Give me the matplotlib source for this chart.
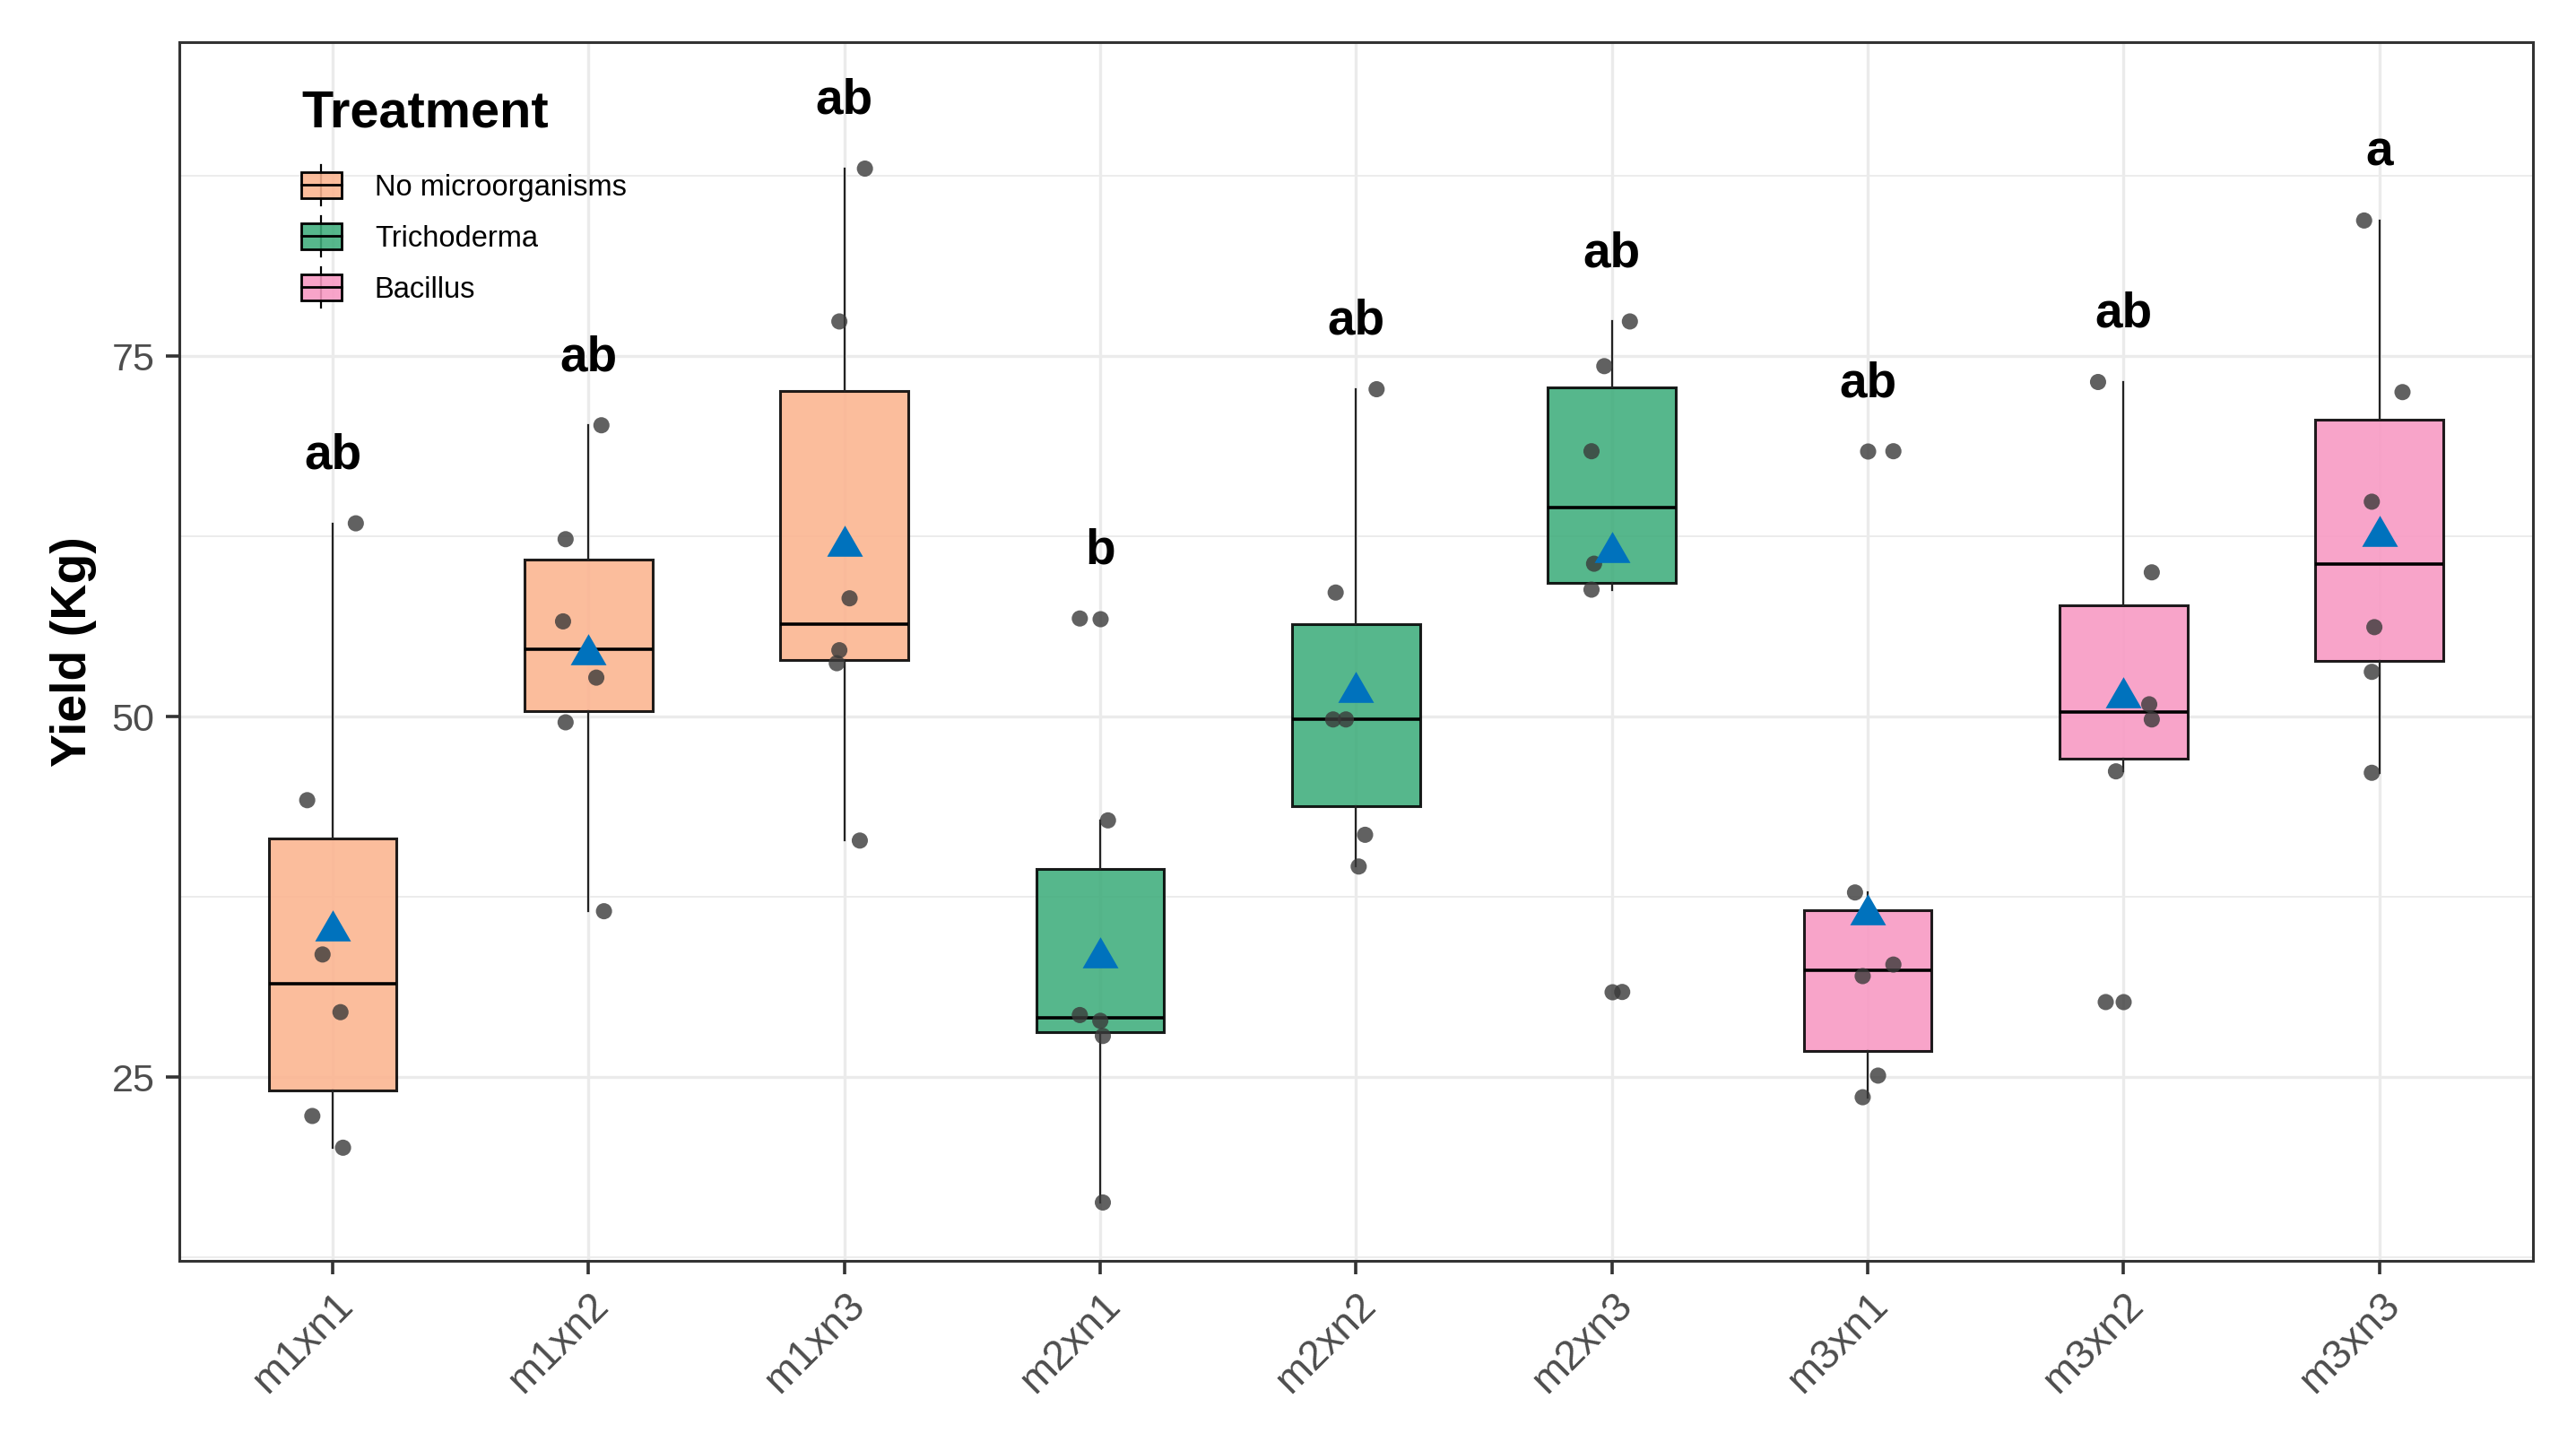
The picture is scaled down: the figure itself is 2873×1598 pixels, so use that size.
import numpy as np
import matplotlib.pyplot as plt
from matplotlib.patches import Rectangle
from matplotlib.lines import Line2D
from matplotlib.path import Path
from matplotlib.transforms import ScaledTranslation

# ---------------------------------------------------
# Data
# ---------------------------------------------------

groups = ["m1xn1", "m1xn2", "m1xn3", "m2xn1", "m2xn2", "m2xn3",
          "m3xn1", "m3xn2", "m3xn3"]
treatment = ["No microorganisms"] * 3 + ["Trichoderma"] * 3 + ["Bacillus"] * 3

m1xn1 = [63.4, 44.2, 33.5, 29.5, 22.3, 20.1]
m1xn2 = [70.2, 62.3, 56.6, 52.7, 49.6, 36.5]
m1xn3 = [88.0, 77.4, 58.2, 54.6, 53.7, 41.4]
m2xn1 = [56.8, 42.8, 29.3, 28.9, 27.85, 16.3]
m2xn2 = [72.7, 58.6, 49.8, 49.8, 41.8, 39.6]
m2xn3 = [77.4, 74.3, 68.4, 60.6, 58.8, 30.9]
m3xn1 = [68.4, 37.8, 32.8, 32.0, 25.1, 23.6]
m3xn2 = [73.2, 60.0, 50.85, 49.8, 46.2, 30.2]
m3xn3 = [84.4, 72.5, 64.9, 56.2, 53.1, 46.1]

yields = [m1xn1, m1xn2, m1xn3, m2xn1, m2xn2, m2xn3, m3xn1, m3xn2, m3xn3]

# horizontal jitter of the points, as seen in the picture
jitter = [
    [0.09, -0.10, -0.04, 0.03, -0.08, 0.04],
    [0.05, -0.09, -0.10, 0.03, -0.09, 0.06],
    [0.08, -0.02, 0.02, -0.02, -0.03, 0.06],
    [-0.08, 0.03, -0.08, 0.00, 0.01, 0.01],
    [0.08, -0.08, -0.09, -0.04, 0.035, 0.01],
    [0.07, -0.03, -0.08, -0.07, -0.08, 0.04],
    [0.10, -0.05, 0.10, -0.02, 0.04, -0.02],
    [-0.10, 0.11, 0.10, 0.11, -0.03, -0.07],
    [-0.06, 0.09, -0.03, -0.02, -0.03, -0.03],
]

letters = ["ab", "ab", "ab", "b", "ab", "ab", "ab", "ab", "a"]

legend_order = ["No microorganisms", "Trichoderma", "Bacillus"]
fill_colors = {"No microorganisms": "#FBB48F",
               "Trichoderma": "#3FAD7C",
               "Bacillus": "#F898C2"}

# ---------------------------------------------------
# Style
# ---------------------------------------------------

plt.rcParams["font.family"] = ["Liberation Sans", "DejaVu Sans"]

BOX_ALPHA = 0.88
POINT_COLOR = "#3A3A3A"
MEAN_COLOR = "#0072BD"
GRID_COLOR = "#EBEBEB"

# equilateral triangle centred on its bounding box
tri = Path([(-0.5, -0.433), (0.5, -0.433), (0.0, 0.433), (-0.5, -0.433)],
           [Path.MOVETO, Path.LINETO, Path.LINETO, Path.CLOSEPOLY])

fig = plt.figure(figsize=(28.73, 15.98), dpi=100)
ax = fig.add_axes([0.0696, 0.1201, 0.9137, 0.8505])

pos = np.arange(1, len(groups) + 1)

bp = ax.boxplot(
    yields,
    positions=pos,
    widths=0.5,
    patch_artist=True,
    showcaps=False,
    whis=1.5,
    boxprops=dict(edgecolor="black", linewidth=2.2),
    medianprops=dict(color="black", linewidth=2.6),
    whiskerprops=dict(color="#222222", linewidth=1.6),
    flierprops=dict(marker="o", markerfacecolor=POINT_COLOR,
                    markeredgecolor="none", markersize=13, alpha=0.8),
    zorder=2,
)
for patch, trt in zip(bp["boxes"], treatment):
    patch.set_facecolor(fill_colors[trt])
    patch.set_alpha(BOX_ALPHA)
    patch.set_edgecolor("black")

# jittered raw points
for p, vals, jit in zip(pos, yields, jitter):
    ax.scatter(p + np.array(jit), vals, s=169, color=POINT_COLOR,
               alpha=0.8, edgecolors="none", zorder=3)

# group means
means = [np.mean(v) for v in yields]
ax.plot(pos, means, linestyle="none", marker=tri, markersize=28.8,
        color=MEAN_COLOR, markeredgewidth=0, zorder=4)

# significance letters
for p, vals, lab in zip(pos, yields, letters):
    ax.text(p, max(vals) + 3.8, lab, ha="center", va="baseline",
            fontsize=39.5, fontweight="bold", color="black", zorder=5)

# ---------------------------------------------------
# Axes
# ---------------------------------------------------

ax.set_xlim(0.4, len(groups) + 0.6)
ax.set_ylim(12.25, 96.77)

ax.set_xticks(pos)
ax.set_xticklabels(groups, rotation=45, ha="right", va="top",
                   rotation_mode="anchor")
shift = ScaledTranslation(-5 / 72, -2 / 72, fig.dpi_scale_trans)
for lab in ax.get_xticklabels():
    lab.set_transform(lab.get_transform() + shift)
ax.set_yticks([25, 50, 75])
ax.set_yticks([12.5, 37.5, 62.5, 87.5], minor=True)

ax.tick_params(axis="both", which="major", length=10.8, width=2.6,
               color="#333333", labelsize=31, labelcolor="#4D4D4D", pad=9)
ax.tick_params(axis="x", which="major", labelsize=33)
ax.tick_params(axis="y", which="minor", length=0)

ax.grid(which="major", color=GRID_COLOR, linewidth=2.4)
ax.grid(which="minor", axis="y", color=GRID_COLOR, linewidth=1.3)
ax.set_axisbelow(True)

for s in ax.spines.values():
    s.set_color("#333333")
    s.set_linewidth(2.2)

ax.set_ylabel("Yield (Kg)", fontsize=40, fontweight="bold", labelpad=12)

# ---------------------------------------------------
# Legend with boxplot keys
# ---------------------------------------------------

KEY_W = 32.4   # points
KEY_H = 32.4
KEY_BOX = 0.64


class BoxKey:
    def __init__(self, color):
        self.color = color


class BoxKeyHandler:
    def legend_artist(self, legend, orig_handle, fontsize, handlebox):
        x0 = handlebox.xdescent
        tr = handlebox.get_transform()
        cy = 0.36 * fontsize          # centre on the label's glyphs
        y0 = cy - KEY_H / 2
        bh = KEY_H * KEY_BOX
        by = cy - bh / 2
        cx = x0 + KEY_W / 2
        handlebox.add_artist(Line2D([cx, cx], [y0, y0 + KEY_H],
                                    color="black", linewidth=1.6,
                                    transform=tr))
        handlebox.add_artist(Rectangle((x0, by), KEY_W, bh,
                                       facecolor=orig_handle.color,
                                       alpha=BOX_ALPHA, edgecolor="none",
                                       transform=tr))
        rect = Rectangle((x0, by), KEY_W, bh, facecolor="none",
                         edgecolor="black", linewidth=2.0, transform=tr)
        handlebox.add_artist(rect)
        handlebox.add_artist(Line2D([x0, x0 + KEY_W], [cy, cy],
                                    color="black", linewidth=2.0,
                                    transform=tr))
        return rect


handles = [BoxKey(fill_colors[t]) for t in legend_order]
leg = ax.legend(
    handles, legend_order,
    handler_map={BoxKey: BoxKeyHandler()},
    title="Treatment",
    title_fontproperties={"size": 41.5, "weight": "bold"},
    fontsize=23.5,
    loc="upper left",
    bbox_to_anchor=(0.0518, 0.9614),
    frameon=False,
    borderpad=0,
    borderaxespad=0,
    handlelength=1.38,
    handleheight=1.745,
    handletextpad=1.13,
    labelspacing=0.37,
)
leg._legend_box.align = "left"
leg._legend_box.sep = 22.7

fig.savefig("out.png", dpi=100)
